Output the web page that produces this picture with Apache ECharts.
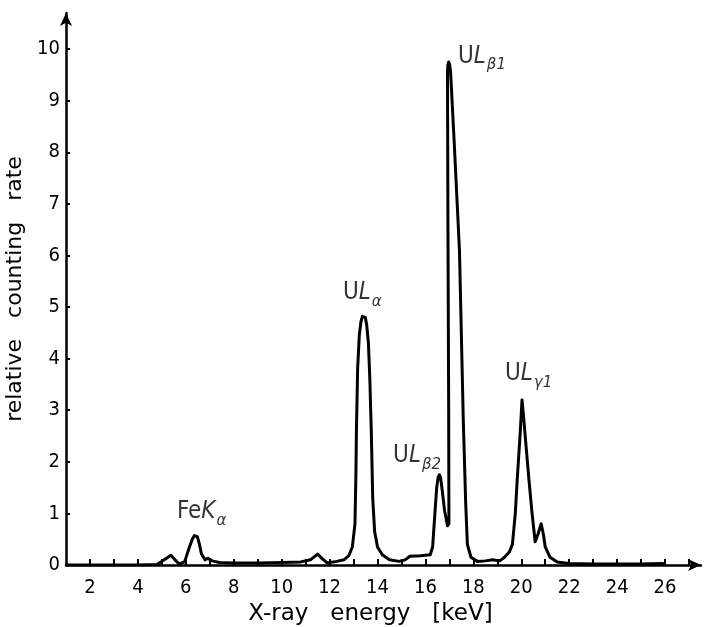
<!DOCTYPE html>
<html>
<head>
<meta charset="utf-8">
<script src="https://cdn.jsdelivr.net/npm/echarts@6/dist/echarts.min.js"></script>
<style>html,body{margin:0;padding:0;background:#fff;}#c{width:706px;height:627px;}</style>
</head>
<body>
<div id="c"></div>
<script>
// X-ray energy (keV) and relative counting rate
const energy = [1.05,2.0,3.0,4.0,4.8,5.1,5.38,5.55,5.72,5.95,6.13,6.27,6.36,6.42,6.48,6.56,6.65,6.8,6.92,7.1,7.4,8.0,9.0,10.0,10.8,11.2,11.5,11.7,11.9,12.3,12.6,12.8,12.95,13.06,13.1,13.12,13.17,13.24,13.31,13.37,13.43,13.49,13.55,13.62,13.68,13.74,13.8,13.88,14.0,14.2,14.5,14.9,15.15,15.35,15.8,16.2,16.3,16.38,16.47,16.53,16.58,16.63,16.7,16.8,16.92,16.98,16.97,16.94,16.92,16.94,16.97,17.01,17.05,17.2,17.42,17.58,17.68,17.75,17.9,18.17,18.5,18.8,19.1,19.3,19.5,19.63,19.75,19.83,19.96,20.03,20.1,20.2,20.33,20.45,20.58,20.7,20.83,20.92,21.0,21.2,21.5,22.0,23.0,24.0,25.0,25.9];
const rate   = [0,0,0,0,0.01,0.1,0.19,0.1,0.02,0.06,0.32,0.5,0.57,0.58,0.55,0.42,0.22,0.1,0.13,0.08,0.05,0.04,0.04,0.05,0.06,0.1,0.21,0.12,0.04,0.07,0.1,0.18,0.35,0.8,1.8,2.6,3.8,4.45,4.72,4.82,4.85,4.8,4.65,4.3,3.6,2.6,1.3,0.65,0.35,0.2,0.1,0.07,0.1,0.17,0.18,0.2,0.35,0.9,1.5,1.7,1.75,1.7,1.45,1.05,0.76,0.8,3,6.5,9.55,9.7,9.75,9.7,9.55,8.2,6.1,2.8,1.2,0.4,0.15,0.07,0.08,0.1,0.08,0.15,0.25,0.4,1.0,1.65,2.6,3.2,2.85,2.3,1.6,1.0,0.45,0.6,0.8,0.6,0.35,0.15,0.06,0.03,0.02,0.02,0.02,0.03];

// peak annotations: element, line, subscript, anchor energy, anchor rate
const peakElem = ['Fe', 'U', 'U', 'U', 'U'];
const peakLine = ['K', 'L', 'L', 'L', 'L'];
const peakSub  = ['α', 'α', 'β2', 'β1', 'γ1'];
const peakX    = [5.63, 12.56, 14.65, 17.36, 19.32];
const peakY    = [1.03, 5.27, 2.11, 9.86, 3.70];

const xTicks = [2,4,6,8,10,12,14,16,18,20,22,24,26];
const yTicks = [0,1,2,3,4,5,6,7,8,9,10];

const FONT = '"Liberation Sans Narrow", "DejaVu Sans Condensed", "Liberation Sans", sans-serif';
const TITLE_FONT = '"DejaVu Sans", sans-serif';

const chart = echarts.init(document.getElementById('c'), null, {renderer: 'canvas'});
const curve = energy.map((e, i) => [e, rate[i]]);
const notes = peakX.map((x, i) => ({
  value: [x, peakY[i]],
  label: {formatter: '{e|' + peakElem[i] + '}{l|' + peakLine[i] + '}{s|' + peakSub[i] + '}'}
}));

chart.setOption({
  backgroundColor: '#fff',
  animation: false,
  grid: {left: 66, right: 5, top: 13, bottom: 62, containLabel: false, outerBoundsMode: 'none'},
  xAxis: {
    type: 'value', min: 1, max: 27.5, interval: 1,
    name: 'X-ray   energy   [keV]', nameLocation: 'middle', nameGap: 35,
    nameTextStyle: {fontFamily: TITLE_FONT, fontSize: 23, color: '#000', padding: [0, 26, 0, 0]},
    axisLine: {show: true, symbol: ['none', 'arrow'], symbolSize: [9, 13], lineStyle: {color: '#000', width: 2.5}},
    axisTick: {show: true, inside: true, length: 6, lineStyle: {color: '#000', width: 2}},
    splitLine: {show: false},
    axisLabel: {
      margin: 13, fontFamily: FONT, fontSize: 20, color: '#000',
      showMaxLabel: false, showMinLabel: false,
      formatter: v => (xTicks.indexOf(v) >= 0 ? String(v) : '')
    }
  },
  yAxis: {
    type: 'value', min: 0, max: 10.7, interval: 1,
    name: 'relative   counting   rate', nameLocation: 'middle', nameGap: 39,
    nameTextStyle: {fontFamily: TITLE_FONT, fontSize: 22, color: '#000'},
    axisLine: {show: true, symbol: ['none', 'arrow'], symbolSize: [9, 13], lineStyle: {color: '#000', width: 2.5}},
    axisTick: {show: true, inside: true, length: 4, lineStyle: {color: '#000', width: 2}},
    splitLine: {show: false},
    axisLabel: {
      margin: 6, fontFamily: FONT, fontSize: 20, color: '#000',
      showMaxLabel: false,
      formatter: v => (yTicks.indexOf(v) >= 0 ? String(v) : '')
    }
  },
  series: [
    {
      type: 'line', data: curve, showSymbol: false, smooth: false,
      lineStyle: {color: '#000', width: 3, join: 'round', cap: 'round'},
      z: 3
    },
    {
      type: 'scatter', data: notes, symbolSize: 0, silent: true,
      label: {
        show: true, position: 'right', distance: 0, color: '#000',
        rich: {
          e: {fontFamily: FONT, fontSize: 24, color: '#000'},
          l: {fontFamily: FONT, fontSize: 24, fontStyle: 'italic', color: '#000'},
          s: {fontFamily: TITLE_FONT, fontSize: 15, fontStyle: 'italic', color: '#000', padding: [18, 0, 0, 1]}
        }
      },
      z: 4
    }
  ]
});
</script>
</body>
</html>
